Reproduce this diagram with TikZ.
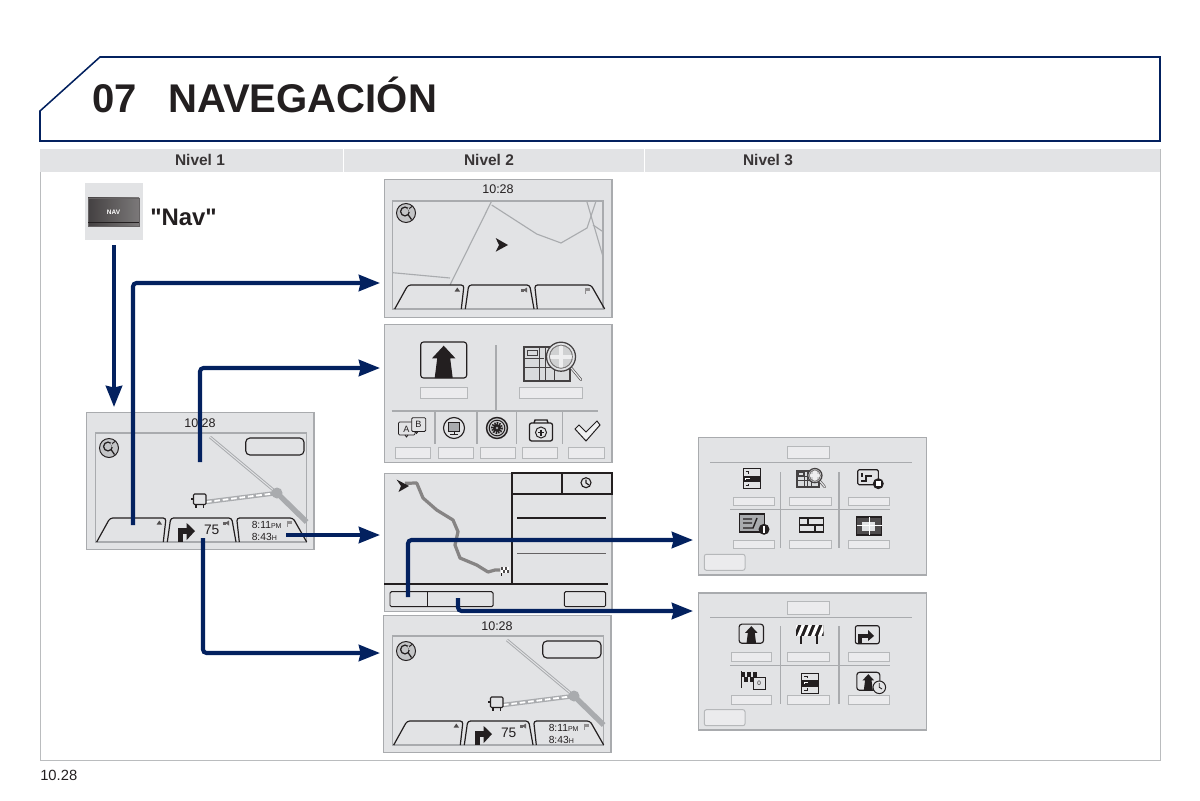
\documentclass[tikz,border=0pt]{standalone}
\usepackage{fontspec}
\setmainfont{Liberation Sans}
\newfontfamily\quotefont{Liberation Sans}
\usetikzlibrary{arrows.meta}
\definecolor{navline}{HTML}{03215F}
\definecolor{panel}{HTML}{E2E3E5}
\definecolor{edgegray}{HTML}{A9ABAE}
\definecolor{inkdark}{HTML}{231F20}
\tikzset{
  panelbox/.style={draw=edgegray, fill=panel, line width=1pt, anchor=north west, inner sep=0pt},
  blankbox/.style={draw=edgegray!85, fill=panel!70!white, line width=.7pt},
  softkey/.style={draw=inkdark, line width=.85pt, rounded corners=2pt},
  mapline/.style={draw=edgegray, line width=.8pt},
  divline/.style={draw=edgegray, line width=.9pt},
  darkline/.style={draw=inkdark, line width=.8pt},
  navarrow/.style={draw=navline, line width=2.9pt, rounded corners=2.5pt, -{Stealth[length=15pt,width=11.5pt,inset=1.2pt]}},
  timetext/.style={font=\fontsize{8.9}{10}\selectfont, text=inkdark, inner sep=0pt},
  leveltext/.style={font=\bfseries\fontsize{11}{13}\selectfont, text=inkdark!90, inner sep=0pt},
  tinytext/.style={font=\fontsize{4.5}{5}\selectfont, text=inkdark, inner sep=0pt}
}
% small pictures used on several screens
\newcommand{\compass}[2]{
  \draw[inkdark, line width=.7pt, fill=edgegray!70] (#1,#2) circle (9.5);
  \draw[inkdark, line width=.9pt] (#1-1,#2-1.5) circle (4.4);
  \draw[inkdark, line width=.9pt] (#1+2,#2+1.5) -- (#1+5.5,#2+6.5);
  \draw[inkdark, line width=.7pt] (#1+2.5,#2-4) -- (#1+6,#2-6.5);
  \draw[edgegray!70, line width=.8pt] (#1+2,#2-5) -- (#1+4,#2-1);
}
\newcommand{\softkeys}[4]{
  \draw[softkey] (#1+10.7,#2) -- (#1+24,#2-24) -- (#1+80,#2-24) -- (#1+77.3,#2);
  \draw[softkey] (#1+81.3,#2) -- (#1+84.7,#2-24) -- (#1+145.7,#2-24) -- (#1+150,#2);
  \draw[softkey] (#1+153.3,#2) -- (#1+150.7,#2-24) -- (#1+207,#2-24) -- (#1+220.7,#2);
  \fill[inkdark!80] (#1+73.3,#2-21.5) -- (#1+76,#2-17.5) -- (#1+70.6,#2-17.5) -- cycle;
  \fill[inkdark!70] (#1+137,#2-20.5) rectangle (#1+140,#2-17.5);
  \fill[inkdark!70] (#1+139,#2-19) -- (#1+143,#2-21.5) -- (#1+143,#2-16.5) -- cycle;
  \fill[inkdark!50] (#1+201,#2-21.5) rectangle (#1+206,#2-18);
  \draw[inkdark!50, line width=.5pt] (#1+201,#2-21.5) -- (#1+201,#2-15.5);
}
\newcommand{\mapframe}[4]{
  \draw[mapline, fill=panel] (#1,#2) rectangle (#3,#4);
}
\newcommand{\naviscreen}[3]{
  \node[panelbox, minimum width=228*.7087pt, minimum height=137*.7087pt] (#3) at (#1,#2) {};
  \begin{scope}[shift={(#1,#2)}]
    \node[timetext] (#3time) at (114,11) {10:28};
    \mapframe{9.7}{21}{220.7}{130}
    \compass{23}{36}
    \draw[inkdark, line width=.8pt, rounded corners=3pt] (159.7,26) rectangle (218,43);
    \draw[edgegray, line width=2.1pt] (124,25) -- (191,81);
    \draw[panel, line width=.7pt] (124,25) -- (191,81);
    \draw[edgegray, line width=3.8pt] (191,81) -- (220.7,110);
    \draw[edgegray, line width=3.2pt] (120,90) -- (191,81);
    \draw[white, line width=1.3pt, dash pattern=on 4pt off 2pt] (120,90) -- (191,81);
    \fill[edgegray] (191,81) circle (5.5);
    \draw[inkdark, line width=.8pt, fill=panel, rounded corners=.8pt] (107.5,82) rectangle (120,92.5);
    \draw[inkdark, line width=.8pt] (110,92) -- (110,96) (117.5,92) -- (117.5,96) (107.5,87) -- (105,87);
    \softkeys{0}{130}{}{}
    \draw[inkdark, line width=3.6pt] (94.3,129.7) -- (94.3,119) -- (101.5,119);
    \fill[inkdark] (100.7,111) -- (109,119) -- (100.7,128) -- cycle;
    \node[font=\fontsize{9.8}{11}\selectfont, text=inkdark, inner sep=0pt] (#3speed) at (125.7,118) {75};
    \node[font=\fontsize{7.3}{8}\selectfont, text=inkdark, inner sep=0pt, align=left, anchor=west] (#3eta) at (165.5,119)
      {8:11{\fontsize{5}{6}\selectfont PM}\\8:43{\fontsize{5}{6}\selectfont H}};
  \end{scope}
}
\newcommand{\upicon}[3]{
  \begin{scope}[shift={(#1,#2)}, scale=#3]
    \draw[inkdark, line width=.8pt, fill=panel, rounded corners=2pt] (-23,-18) rectangle (23,18);
    \fill[inkdark] (0,-14.3) -- (11.7,-1.7) -- (6.5,-1.7) -- (9,18) -- (-9,18) -- (-6.5,-1.7) -- (-11.7,-1.7) -- cycle;
  \end{scope}
}
\newcommand{\lensmap}[3]{
  \begin{scope}[shift={(#1,#2)}, scale=#3]
    \draw[inkdark!85, line width=1.4pt, fill=panel!85!edgegray] (-23,-17) rectangle (23,17);
    \draw[inkdark!85, line width=.7pt] (-23,-5) -- (-3,-5) (-23,4) -- (-8,4) (-8,-17) -- (-8,17) (-2,-17) -- (-2,17) (-8,4) -- (23,4) (7,4) -- (7,17) (-20,-13) rectangle (-10,-8);
    \draw[inkdark!80, line width=1.8pt, line cap=round] (24,4) -- (34,16);
    \draw[panel, line width=.9pt, line cap=round] (24,4) -- (34,16);
    \draw[inkdark!85, line width=.9pt, fill=panel] (14,-7) circle (14.5);
    \draw[inkdark!60, line width=.5pt, fill=edgegray!55] (14,-7) circle (11.5);
    \draw[panel!60!white, line width=2.6pt] (14,-18.5) -- (14,4.5) (2.5,-7) -- (25.5,-7);
    \draw[inkdark!60, line width=.5pt] (14,-7) circle (11.5);
  \end{scope}
}
\newcommand{\turnlist}[2]{
  \begin{scope}[shift={(#1,#2)}]
    \draw[inkdark, line width=.7pt, fill=panel] (-8.3,-10) rectangle (8.3,10);
    \fill[inkdark] (-8.3,-3) rectangle (8.3,3.5);
    \draw[inkdark, line width=.5pt] (-6,-7) -- (-3,-7) -- (-3,-5) (-6,7) -- (-3,7) -- (-3,5);
    \draw[white, line width=.5pt] (-6,1) -- (-6,-.5) -- (-2,-.5);
  \end{scope}
}
\begin{document}
\begin{tikzpicture}[x=0.025cm, y=-0.025cm]
  \useasboundingbox (0,0) rectangle (1200,800);
  % title
  \draw[navline, line width=1.1pt, fill=white] (40,141) -- (40,111) -- (100,57) -- (1160,57) -- (1160,141) -- cycle;
  \node[font=\bfseries\fontsize{28.5}{30}\selectfont, text=inkdark, inner sep=0pt, anchor=base west] (chapter) at (92,113) {07};
  \node[font=\bfseries\fontsize{28.5}{30}\selectfont, text=inkdark, inner sep=0pt, anchor=base west] (title) at (168,113) {NAVEGACIÓN};
  % table
  \draw[edgegray!80, line width=.7pt] (40,149) rectangle (1160,760);
  \fill[panel] (40,149) rectangle (1160,172);
  \draw[white, line width=.7pt] (343,149) -- (343,172) (644,149) -- (644,172);
  \node[leveltext] (levelA) at (200,160) {Nivel 1};
  \node[leveltext] (levelB) at (489,160) {Nivel 2};
  \node[leveltext] (levelC) at (768,160) {Nivel 3};
  \node[font=\fontsize{10.5}{12}\selectfont, text=inkdark, inner sep=0pt, anchor=base west] (pagenum) at (40,780) {10.28};
  % nav key
  \fill[panel] (85,183) rectangle (143,240);
  \draw[inkdark!70, line width=.5pt, left color=inkdark!85, right color=inkdark!60] (88,198) rectangle (139,226);
  \draw[inkdark, line width=.6pt] (88,222) -- (139,222);
  \node[font=\bfseries\fontsize{4.6}{5}\selectfont, text=white, inner sep=0pt] (navkey) at (113.5,212) {NAV};
  \node[font=\quotefont\bfseries\fontsize{17}{19}\selectfont, text=inkdark, inner sep=0pt, anchor=base west] (navword) at (150,226) {"Nav"};

  % level 1 and the same screen on level 2
  \naviscreen{86}{412}{homeScreen}
  \naviscreen{383}{615}{guideScreen}

  % plain map screen
  \node[panelbox, minimum width=228*.7087pt, minimum height=138*.7087pt] (mapScreen) at (384,179) {};
  \node[timetext] (mapTime) at (498,189) {10:28};
  \mapframe{392.7}{201}{603}{309}
  \draw[mapline] (491.7,201) -- (450,285);
  \draw[mapline] (392.7,272.7) -- (450,278);
  \draw[mapline] (491.7,205) -- (536.7,234) -- (561,243) -- (587,228) -- (596,201);
  \draw[mapline] (586.7,201) -- (603,256.7);
  \draw[mapline] (593,225) -- (603,231.7);
  \compass{406}{213}
  \fill[inkdark] (495.7,238) -- (508,245) -- (495.7,251.7) -- (499,245) -- cycle;
  \softkeys{384}{309}{}{}

  % destination screen
  \node[panelbox, minimum width=228*.7087pt, minimum height=138*.7087pt] (menuScreen) at (384,324) {};
  \upicon{443.7}{360}{1}
  \lensmap{547}{363.7}{1}
  \draw[divline] (496,345) -- (496,410);
  \draw[divline] (391.7,411) -- (598,411);
  \foreach \x in {435,477,516.7,562.7} \draw[divline] (\x,411) -- (\x,444);
  \draw[blankbox] (420,387) rectangle (467,398);
  \draw[blankbox] (519,387) rectangle (582.7,398);
  \draw[blankbox] (395,447) rectangle (430.7,458);
  \draw[blankbox] (438,447) rectangle (473,458);
  \draw[blankbox] (480,447) rectangle (515,458);
  \draw[blankbox] (522.7,447) rectangle (557.7,458);
  \draw[blankbox] (568,447) rectangle (604,458);
  % speech boxes
  \draw[inkdark, line width=.6pt, fill=panel, rounded corners=.8pt] (398.5,422) rectangle (415,435);
  \draw[inkdark, line width=.6pt] (405,435) -- (406.5,437) -- (408,435);
  \draw[inkdark, line width=.6pt, fill=panel, rounded corners=.8pt] (411.7,417.7) rectangle (425.7,431.5);
  \draw[inkdark, line width=.6pt] (415,431.5) -- (416.5,433.5) -- (418,431.5);
  \node[tinytext, font=\fontsize{6.5}{7}\selectfont] (speechA) at (406.5,429) {A};
  \node[tinytext, font=\fontsize{6.5}{7}\selectfont] (speechB) at (418.5,424.5) {B};
  % display, gear, kit and tick
  \draw[inkdark, line width=.8pt, fill=panel] (454,428) circle (10.5);
  \draw[inkdark, line width=.7pt, fill=edgegray] (448.5,422.5) rectangle (459.5,431.5);
  \draw[inkdark, line width=.7pt] (454,431.5) -- (454,434.5) (450,434.5) -- (458,434.5);
  \draw[inkdark, line width=1pt, fill=edgegray!70] (497,428) circle (10.5);
  \draw[inkdark, line width=.7pt, fill=panel!70!edgegray] (497,428) circle (7.8);
  \draw[inkdark, line width=1.6pt, dash pattern=on 1pt off .8pt] (497,428) circle (5);
  \fill[inkdark] (497,428) circle (4);
  \fill[edgegray] (497,428) circle (1.3);
  \draw[inkdark, line width=.9pt, fill=panel, rounded corners=1.5pt] (529.5,423) rectangle (552.5,441);
  \draw[inkdark, line width=1pt] (534,423) -- (535,420) -- (547,420) -- (548,423);
  \draw[inkdark, line width=.7pt] (541,432.5) circle (5.5);
  \draw[inkdark, line width=.8pt] (541,429.5) -- (541,435.5) (538,432.5) -- (544,432.5);
  \draw[inkdark, line width=.7pt, fill=panel!50!white] (575,429) -- (579,425) -- (586,432) -- (597,421) -- (600,425) -- (586,441) -- cycle;

  % route screen
  \node[panelbox, minimum width=228*.7087pt, minimum height=138*.7087pt] (routeScreen) at (384,473) {};
  \draw[darkline] (512,473) rectangle (612,494);
  \draw[darkline] (512,494) -- (512,584) (562,473) -- (562,494);
  \draw[darkline] (384,584) -- (608,584);
  \draw[darkline] (517,518) -- (605.7,518);
  \draw[darkline, draw=inkdark!70] (517,553.7) -- (605.7,553.7);
  \draw[inkdark, line width=.7pt, rounded corners=1pt] (390,591.7) rectangle (493,606.7);
  \draw[inkdark, line width=.7pt] (427,591.7) -- (427,606.7);
  \draw[inkdark, line width=.7pt, rounded corners=1pt] (564.3,591.7) rectangle (605.7,606.7);
  \draw[inkdark!55, line width=2.3pt, line join=round] (405,483.3) -- (416.7,483) -- (423,498) -- (436.7,510) -- (453,520) -- (458,531.7) -- (455,545) -- (460,558) -- (476.7,565) -- (488,572) -- (495,570) -- (500,570);
  \fill[inkdark] (396.5,479.5) -- (409,486) -- (398.5,492) -- (401,486) -- cycle;
  \draw[inkdark, line width=.5pt] (501,567) -- (501,576);
  \fill[inkdark!80] (501,567) rectangle (509,573);
  \foreach \x/\y in {503/567,507/567,501/570,505/570} \fill[white] (\x,\y) rectangle (\x+2,\y+3);
  \draw[inkdark, line width=.8pt] (586,482.7) circle (5);
  \draw[inkdark, line width=.8pt] (586,479.5) -- (586,483) -- (589,485);

  % first list of level 3
  \node[panelbox, minimum width=229*.7087pt, minimum height=137.7*.7087pt] (searchScreen) at (697.7,437) {};
  \draw[blankbox] (787.7,446) rectangle (829,458.7);
  \draw[divline] (710,462.7) -- (911.7,462.7) (730,509.7) -- (890,509.7);
  \draw[divline] (780.7,472) -- (780.7,548) (839,472) -- (839,548);
  \foreach \x/\w in {733.3/774.3,789.3/831,848.3/889.3} {
    \draw[blankbox] (\x,497) rectangle (\w,505.3);
    \draw[blankbox] (\x,540.3) rectangle (\w,548.7);
  }
  \draw[blankbox, rounded corners=1.5pt] (704.3,554.3) rectangle (745,570.3);
  \turnlist{751.7}{478.7}
  \lensmap{808}{479}{.49}
  \draw[inkdark, line width=.8pt, fill=panel, rounded corners=1pt] (857.7,469.8) rectangle (878.4,484.8);
  \draw[inkdark, line width=1.6pt] (861,481) -- (866,481) -- (866,476) -- (872,476) (862,473) -- (862,477);
  \fill[inkdark] (878.3,483.7) circle (5.5);
  \fill[white] (876,481.4) rectangle (880.6,486);
  \draw[inkdark, line width=.8pt, fill=edgegray] (739.8,514) rectangle (764.8,532);
  \draw[inkdark, line width=1pt] (743,528) -- (753,528) -- (757,518) (743,519) -- (752,519) (743,523) -- (752,523);
  \fill[inkdark] (764,529.3) circle (5.5);
  \fill[white] (763.3,526) rectangle (764.7,532.6);
  \draw[inkdark, line width=.8pt, fill=panel] (799.3,518) rectangle (823.3,532);
  \draw[inkdark, line width=.8pt] (799.3,525) -- (823.3,525) (808,518) -- (808,525) (815,525) -- (815,532);
  \draw[inkdark, line width=.8pt, fill=inkdark!80] (856.5,517) rectangle (881.5,535);
  \fill[panel] (862,522) rectangle (875,531);
  \draw[white, line width=.6pt] (856.5,525) -- (881.5,525) (869,517) -- (869,535);

  % second list of level 3
  \node[panelbox, minimum width=229*.7087pt, minimum height=137.4*.7087pt] (detourScreen) at (697.7,592.3) {};
  \draw[blankbox] (787.7,601.3) rectangle (829,614);
  \draw[divline] (710,617.7) -- (911.7,617.7) (730,665.3) -- (890,665.3);
  \draw[divline] (780.7,626) -- (780.7,704) (839,626) -- (839,704);
  \foreach \x/\w in {731/771.7,787.7/829,848.3/889.7} {
    \draw[blankbox] (\x,652.3) rectangle (\w,661.3);
    \draw[blankbox] (\x,695.7) rectangle (\w,704.7);
  }
  \draw[blankbox, rounded corners=1.5pt] (704.3,709.7) rectangle (745,725.7);
  \upicon{751.3}{633.7}{.53}
  % road block
  \draw[inkdark, line width=1.2pt] (800.7,630) -- (800.7,644) (817.3,630) -- (817.3,644);
  \begin{scope}
    \clip (796,625) rectangle (823.5,636);
    \fill[inkdark] (796,625) rectangle (823.5,636);
    \foreach \x in {790,797,804,811,818} \fill[white] (\x,636) -- (\x+3.5,636) -- (\x+8,625) -- (\x+4.5,625) -- cycle;
  \end{scope}
  \draw[inkdark, line width=.8pt, fill=panel, rounded corners=1.5pt] (855.3,625.7) rectangle (879.3,643.7);
  \draw[inkdark, line width=3pt] (860,643) -- (860,636) -- (870,636);
  \fill[inkdark] (868,630) -- (874,636) -- (868,641) -- cycle;
  % finish flag
  \draw[inkdark, line width=.7pt] (741,671) -- (741,688);
  \foreach \x/\y in {741/672,747/672,753/672,744/677,750/677} \fill[inkdark] (\x,\y) rectangle (\x+3.5,\y+5);
  \draw[inkdark, line width=.7pt, fill=panel] (753.3,677.3) rectangle (765,689.7);
  \node[tinytext] (flagCount) at (759.2,683.5) {0};
  \turnlist{810}{683}
  \upicon{868.3}{681.3}{.5}
  \draw[inkdark, line width=.7pt, fill=panel] (879.3,687.3) circle (6.3);
  \draw[inkdark, line width=.6pt] (879.3,683) -- (879.3,687.3) -- (882,689);

  % connectors
  \coordinate (navDown) at (114,245);
  \coordinate (homeTop) at (114,407);
  \coordinate (keyLeft) at (133,525);
  \coordinate (mapIn) at (380,283);
  \coordinate (homeMid) at (200,462);
  \coordinate (menuIn) at (380,368);
  \coordinate (etaOut) at (286,535);
  \coordinate (routeIn) at (380,535);
  \coordinate (speedOut) at (203,538);
  \coordinate (guideIn) at (380,653);
  \coordinate (btnLeft) at (408,597);
  \coordinate (searchIn) at (693,540);
  \coordinate (btnMid) at (458,598);
  \coordinate (detourIn) at (693,611);
  \draw[navarrow] (navDown) -- (homeTop);
  \draw[navarrow] (keyLeft) |- (mapIn);
  \draw[navarrow] (homeMid) |- (menuIn);
  \draw[navarrow] (etaOut) -- (routeIn);
  \draw[navarrow] (speedOut) |- (guideIn);
  \draw[navarrow] (btnLeft) |- (searchIn);
  \draw[navarrow] (btnMid) |- (detourIn);
\end{tikzpicture}
\end{document}
